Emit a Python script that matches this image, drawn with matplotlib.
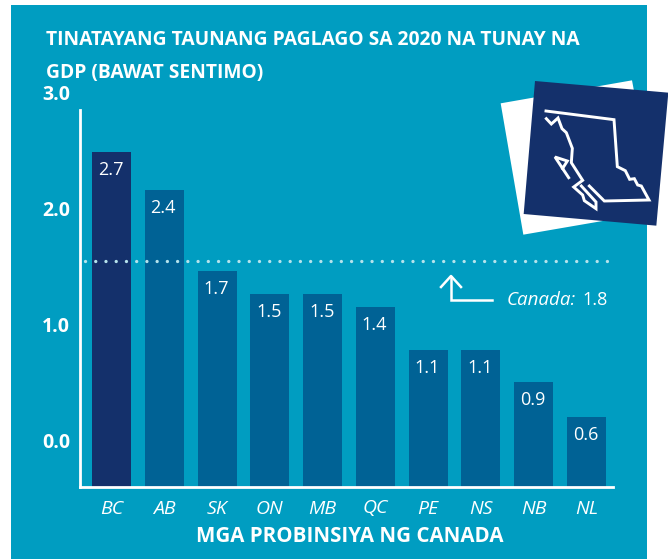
import numpy as np
import matplotlib.pyplot as plt
from matplotlib.patches import Polygon, Rectangle

plt.rcParams['font.family'] = ['Open Sans', 'DejaVu Sans']

W, H = 668, 559
BG = '#009dc1'
NAVY = '#14306b'
BLUE = '#006295'

provinces = ['BC', 'AB', 'SK', 'ON', 'MB', 'QC', 'PE', 'NS', 'NB', 'NL']
# bar tops as drawn against the printed axis, they don't line up with their labels
bar_tops = [2.48, 2.155, 1.46, 1.26, 1.26, 1.145, 0.78, 0.78, 0.50, 0.20]
bar_labels = ['2.7', '2.4', '1.7', '1.5', '1.5', '1.4', '1.1', '1.1', '0.9', '0.6']
y_ticks = [0.0, 1.0, 2.0, 3.0]
canada_line = 1.54
canada_label = '1.8'

title_lines = ['TINATAYANG TAUNANG PAGLAGO SA 2020 NA TUNAY NA', 'GDP (BAWAT SENTIMO)']
x_title = 'MGA PROBINSIYA NG CANADA'

fig = plt.figure(figsize=(W / 100, H / 100), dpi=100, facecolor='white')

# overlay in pixel coords for the panel and the map badge
bg = fig.add_axes([0, 0, 1, 1], zorder=0)
bg.set_xlim(0, W)
bg.set_ylim(H, 0)
bg.axis('off')
bg.add_patch(Rectangle((11, 5), 636, 554, color=BG, lw=0))

# chart axes, spine at x=80, baseline at y=487
left, right, top, bottom = 80, 613, 85, 487
pitch = 52.78
ax = fig.add_axes([left / W, 1 - bottom / H, (right - left) / W, (bottom - top) / H], zorder=1)
ax.patch.set_alpha(0)
y_base = -47 / 116
ax.set_ylim(y_base, (440 - top) / 116)
ax.set_xlim(-31.5 / pitch, 501.5 / pitch)

x = np.arange(len(provinces))
colors = [NAVY] + [BLUE] * (len(provinces) - 1)
heights = np.array(bar_tops) - y_base
ax.bar(x, heights, bottom=y_base, width=39 / pitch, color=colors, linewidth=0, zorder=2)

for xi, top_val, lab in zip(x, bar_tops, bar_labels):
    ax.annotate(lab, (xi, top_val), xytext=(-1, -18), textcoords='offset pixels', ha='center',
                va='center', color='white', fontsize=13)

ax.plot([-0.5, 9.56], [canada_line, canada_line], color='#b5e3ec', lw=2.4, ls=(0, (0.01, 3.06)),
        dash_capstyle='round', clip_on=False, zorder=3)

for s in ['top', 'right']:
    ax.spines[s].set_visible(False)
for s in ['left', 'bottom']:
    ax.spines[s].set_color('white')
    ax.spines[s].set_linewidth(2)
ax.spines['left'].set_bounds(y_base, (440 - 110) / 116)

ax.set_xticks(x)
ax.set_xticklabels(provinces, style='italic', color='white', fontsize=14)
ax.set_yticks(y_ticks)
ax.set_yticklabels([f'{t:.1f}' for t in y_ticks], fontweight='bold', color='white', fontsize=14)
ax.tick_params(axis='x', length=0, pad=9)
ax.tick_params(axis='y', length=0, pad=7)

# titles
bg.text(46, 40, title_lines[0], color='white', fontweight='bold', fontsize=13.9, va='center', ha='left')
bg.text(46, 73, title_lines[1], color='white', fontweight='bold', fontsize=13.9, va='center', ha='left')
bg.text(350, 537, x_title, color='white', fontweight='bold', fontsize=14.8, va='center', ha='center')

# Canada callout
bg.plot([492, 451, 451], [300, 300, 277], color='white', lw=1.8, solid_joinstyle='miter', zorder=5)
bg.plot([441, 451, 461], [287, 276, 287], color='white', lw=1.8, zorder=5)
bg.text(507, 300, 'Canada:', color='white', style='italic', fontsize=13.5, va='center', ha='left', zorder=5)
bg.text(582, 300, canada_label, color='white', fontsize=13, va='center', ha='left', zorder=5)

# map badge, zoom coords (3x from 480,60)
def zp(points):
    return [(480 + a / 3, 60 + b / 3) for a, b in points]

badge = fig.add_axes([0, 0, 1, 1], zorder=2)
badge.set_xlim(0, W)
badge.set_ylim(H, 0)
badge.axis('off')
badge.add_patch(Polygon(zp([(62, 130), (456, 61), (530, 455), (130, 524)]), color='white', lw=0))
badge.add_patch(Polygon(zp([(165, 63), (565, 98), (529, 497), (131, 462)]), color=NAVY, lw=0))
outline = [(198, 153), (402, 179), (412, 320), (436, 332), (449, 358), (463, 356), (473, 375),
           (484, 378), (507, 420), (373, 423), (328, 378)]
coast = [(199, 176), (214, 192), (234, 174), (246, 206), (259, 218), (277, 265), (274, 308),
         (308, 361), (281, 381), (308, 405), (313, 422), (348, 446), (348, 426), (304, 378)]
island = [(266, 353), (225, 291), (262, 303), (248, 325)]
for line in [outline, coast, island]:
    pts = np.array(zp(line))
    badge.plot(pts[:, 0], pts[:, 1], color='white', lw=2.1, solid_joinstyle='miter')

fig.savefig('out.png', dpi=100, facecolor='white')
